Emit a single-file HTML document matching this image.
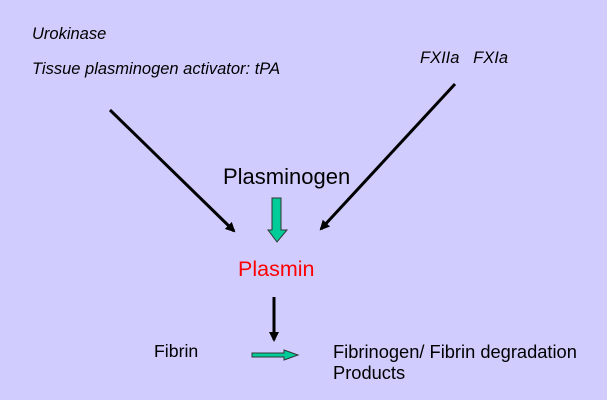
<!DOCTYPE html>
<html><head><style>
body{margin:0;width:607px;height:400px;background:#d0ccfe;position:relative;overflow:hidden;font-family:"Liberation Sans",sans-serif}
.t{position:absolute;white-space:nowrap}
.i{font-style:italic;font-size:16.5px;color:#000}
</style></head><body>
<div class="t i" style="left:32px;top:25px">Urokinase</div>
<div class="t i" style="left:32px;top:60px">Tissue plasminogen activator: tPA</div>
<div class="t i" style="left:420px;top:49px">FXIIa&nbsp;&nbsp; FXIa</div>
<div class="t" style="left:223px;top:164px;font-size:22px">Plasminogen</div>
<div class="t" style="left:238px;top:257px;font-size:21.5px;color:#ff0000">Plasmin</div>
<div class="t" style="left:154px;top:341px;font-size:17.7px">Fibrin</div>
<div class="t" style="left:333px;top:341px;font-size:18.3px;line-height:21px">Fibrinogen/ Fibrin degradation<br>Products</div>
<svg width="607" height="400" style="position:absolute;left:0;top:0">
<defs><marker id="a" markerWidth="10" markerHeight="10" refX="8" refY="5" orient="auto" markerUnits="userSpaceOnUse"><path d="M0,0 L10,5 L0,10 z" fill="#000"/></marker></defs>
<line x1="110" y1="110" x2="234" y2="231" stroke="#000" stroke-width="3" marker-end="url(#a)"/>
<line x1="455" y1="84" x2="321" y2="229" stroke="#000" stroke-width="3" marker-end="url(#a)"/>
<line x1="274" y1="297" x2="274" y2="340" stroke="#000" stroke-width="3" marker-end="url(#a)"/>
<path d="M272,198 H281 V230 H287 L277,242 L268,230 H272 Z" fill="#00cc99" stroke="#333" stroke-width="1"/>
<path d="M252,353 H284 V350 L298,355 L284,360 V357 H252 Z" fill="#00cc99" stroke="#333" stroke-width="1"/>
</svg>
</body></html>
